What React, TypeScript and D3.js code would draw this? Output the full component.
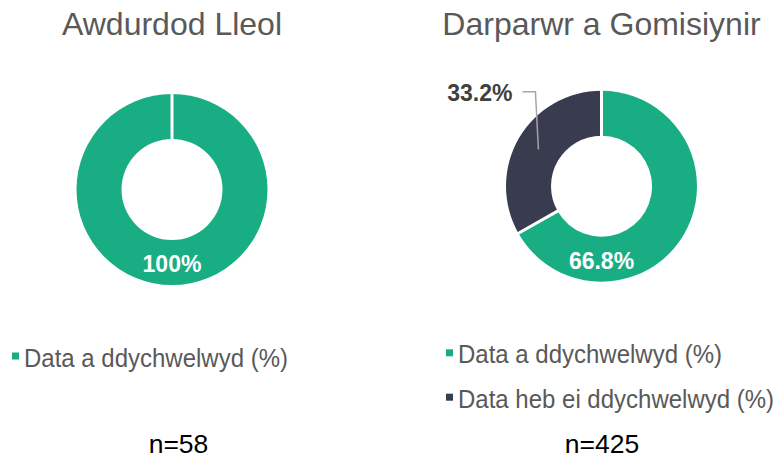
import * as d3 from 'd3';

// chart values
const titles = ['Awdurdod Lleol', 'Darparwr a Gomisiynir'];
const seriesNames = ['Data a ddychwelwyd (%)', 'Data heb ei ddychwelwyd (%)'];
const returnedPct = [100, 66.8];
const notReturnedPct = [0, 33.2];
const sampleSizes = [58, 425];

const colors = ['#19ad84', '#393b4f'];
const font = "'Liberation Sans', Arial, sans-serif";

const width = 776;
const height = 459;
const outerR = 95.5;
const innerR = 50.5;

// layout of the two panels
const panels = [
  { cx: 172, cy: 189.5, nx: 178.5, legendX: 12, legendY: 366.5 },
  { cx: 601.5, cy: 186.2, nx: 602, legendX: 446, legendY: 363.3 },
];
const legendGap = 44.4;

const fmt = (v: number) => (v === 100 ? '100%' : d3.format('.1f')(v) + '%');

const Donut = ({ i }: { i: number }) => {
  const p = panels[i];
  const values = [returnedPct[i], notReturnedPct[i]];
  const pie = d3.pie<number>().sort(null).value((d) => d);
  const arcs = pie(values);
  const arc = d3.arc<d3.PieArcDatum<number>>().innerRadius(innerR).outerRadius(outerR);
  const labelArc = d3.arc<any>().innerRadius(innerR).outerRadius(outerR);

  const pt = (a: number, r: number) => [p.cx + r * Math.sin(a), p.cy - r * Math.cos(a)];

  const shown = arcs.filter((a) => a.value > 0);

  return (
    <g>
      <text
        x={p.cx}
        y={35}
        textAnchor="middle"
        fontSize={32}
        fill="#595959"
        style={{ fontFamily: font }}
      >
        {titles[i]}
      </text>
      <g transform={`translate(${p.cx},${p.cy})`}>
        {shown.map((a, k) => (
          <path key={k} d={arc(a) || ''} fill={colors[a.index]} />
        ))}
      </g>
      {shown.map((a, k) => {
        const [x1, y1] = pt(a.startAngle, innerR - 1);
        const [x2, y2] = pt(a.startAngle, outerR + 1);
        return <line key={k} x1={x1} y1={y1} x2={x2} y2={y2} stroke="#fff" strokeWidth={3} />;
      })}
      {shown.map((a, k) => {
        if (a.index === 0) {
          const [lx, ly] = labelArc.centroid({ startAngle: Math.PI, endAngle: Math.PI });
          return (
            <text
              key={'l' + k}
              x={p.cx + lx}
              y={p.cy + ly + 9.5}
              textAnchor="middle"
              fontSize={23}
              fontWeight="bold"
              fill="#fff"
              style={{ fontFamily: font }}
            >
              {fmt(a.value)}
            </text>
          );
        }
        const [cx0, cy0] = arc.centroid(a);
        const sx = p.cx + cx0;
        const sy = p.cy + cy0;
        const ex = sx - 3;
        const ey = p.cy - outerR + 1;
        const tx = ex - 13;
        return (
          <g key={'l' + k}>
            <polyline
              points={`${sx},${sy} ${ex},${ey} ${tx},${ey}`}
              fill="none"
              stroke="#a6a6a6"
              strokeWidth={1.5}
            />
            <text
              x={tx - 10}
              y={ey + 9}
              textAnchor="end"
              fontSize={23}
              fontWeight="bold"
              fill="#404040"
              style={{ fontFamily: font }}
            >
              {fmt(a.value)}
            </text>
          </g>
        );
      })}
      {shown.map((a, k) => (
        <g key={'g' + k}>
          <rect
            x={p.legendX}
            y={p.legendY - 14 + k * legendGap}
            width={7}
            height={7}
            fill={colors[a.index]}
          />
          <text
            transform={`translate(${p.legendX + 12},${p.legendY + k * legendGap}) scale(1,1.1)`}
            fontSize={24}
            fill="#595959"
            style={{ fontFamily: font }}
          >
            {seriesNames[a.index]}
          </text>
        </g>
      ))}
      <text
        x={p.nx}
        y={452.8}
        textAnchor="middle"
        fontSize={26.5}
        fill="#000"
        style={{ fontFamily: font }}
      >
        {`n=${sampleSizes[i]}`}
      </text>
    </g>
  );
};

export default function App() {
  return (
    <svg
      width={width}
      height={height}
      style={{ position: 'absolute', left: 0, top: 0, background: '#fff' }}
    >
      {titles.map((_, i) => (
        <Donut key={i} i={i} />
      ))}
    </svg>
  );
}
